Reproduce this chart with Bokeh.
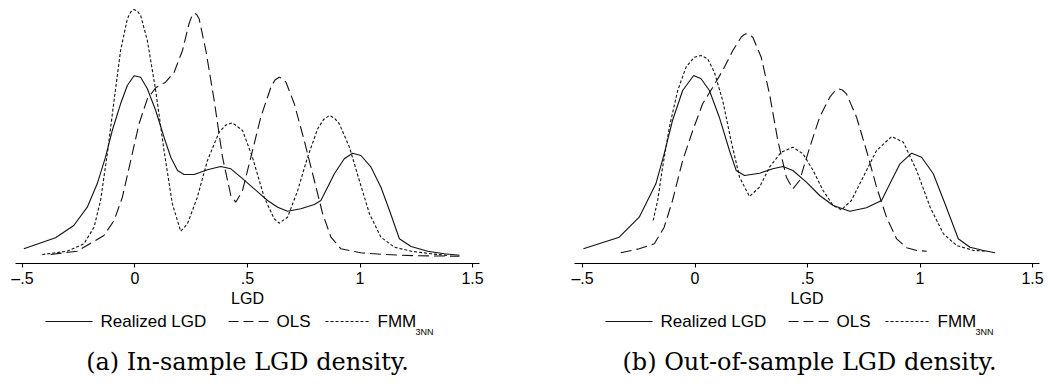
from bokeh.plotting import figure
from bokeh.layouts import row, column
from bokeh.models import FixedTicker, Range1d
from bokeh.core.properties import value
from bokeh.embed import file_html
from bokeh.resources import INLINE

# ---------------- data ----------------
# Panel (a): in-sample
a_real_x = [-0.494, -0.353, -0.272, -0.212, -0.168, -0.131, -0.101, -0.064, -0.034, -0.004,
            0.025, 0.055, 0.092, 0.129, 0.159, 0.189, 0.218, 0.263, 0.322, 0.381,
            0.426, 0.47, 0.53, 0.589, 0.634, 0.678, 0.737, 0.797, 0.826, 0.856,
            0.886, 0.93, 0.967, 1.004, 1.049, 1.093, 1.131, 1.175, 1.227, 1.301,
            1.375, 1.442]
a_real_y = [0.077, 0.187, 0.31, 0.493, 0.727, 0.993, 1.26, 1.527, 1.71, 1.807,
            1.793, 1.677, 1.46, 1.193, 0.993, 0.86, 0.82, 0.82, 0.867, 0.9,
            0.877, 0.793, 0.677, 0.56, 0.493, 0.453, 0.477, 0.52, 0.56, 0.693,
            0.827, 0.977, 1.033, 1.01, 0.893, 0.693, 0.46, 0.177, 0.1, 0.053,
            0.027, 0.013]

a_ols_x = [-0.375, -0.257, -0.138, -0.093, -0.056, -0.019, 0.018, 0.055, 0.092, 0.136,
           0.174, 0.211, 0.24, 0.252, 0.263, 0.274, 0.285, 0.315, 0.352, 0.389, 0.426, 0.448,
           0.478, 0.515, 0.559, 0.604, 0.622, 0.641, 0.656, 0.671, 0.708, 0.752, 0.797, 0.834,
           0.871, 0.915, 1.004, 1.108, 1.257, 1.442]
a_ols_y = [0.02, 0.053, 0.21, 0.36, 0.593, 0.96, 1.327, 1.577, 1.687, 1.743,
           1.843, 2.06, 2.327, 2.40, 2.433, 2.42, 2.377, 2.06, 1.56, 0.993, 0.61, 0.543,
           0.66, 0.993, 1.393, 1.693, 1.765, 1.793, 1.78, 1.743, 1.527, 1.16, 0.76, 0.427,
           0.193, 0.077, 0.037, 0.02, 0.007, 0.003]

a_fmm_x = [-0.412, -0.301, -0.227, -0.182, -0.153, -0.123, -0.093, -0.064, -0.034, -0.019,
           -0.004, 0.010, 0.025, 0.055, 0.092, 0.129, 0.166, 0.203, 0.233, 0.277, 0.322,
           0.374, 0.404, 0.433, 0.478, 0.522, 0.574, 0.619, 0.641, 0.678, 0.723, 0.767,
           0.812, 0.838, 0.864, 0.886, 0.908, 0.953, 0.997, 1.042, 1.093, 1.153, 1.227,
           1.316, 1.39]
a_fmm_y = [0.02, 0.053, 0.127, 0.293, 0.56, 1.027, 1.56, 2.06, 2.377, 2.445,
           2.47, 2.455, 2.41, 2.16, 1.66, 1.06, 0.527, 0.253, 0.327, 0.593, 0.96,
           1.243, 1.315, 1.337, 1.26, 0.993, 0.593, 0.377, 0.333, 0.393, 0.66, 0.993,
           1.277, 1.37, 1.41, 1.385, 1.327, 1.093, 0.76, 0.427, 0.193, 0.093, 0.053,
           0.027, 0.01]

# Panel (b): out-of-sample
b_real_x = [-0.496, -0.337, -0.248, -0.174, -0.137, -0.1, -0.055, -0.006, 0.027, 0.064,
            0.108, 0.153, 0.183, 0.22, 0.287, 0.346, 0.391, 0.435, 0.495, 0.554,
            0.614, 0.688, 0.762, 0.829, 0.866, 0.911, 0.963, 1.007, 1.059, 1.111,
            1.17, 1.222, 1.282, 1.334]
b_real_y = [0.077, 0.193, 0.393, 0.727, 1.027, 1.36, 1.66, 1.81, 1.777, 1.66,
            1.393, 1.06, 0.86, 0.81, 0.833, 0.877, 0.9, 0.86, 0.743, 0.61,
            0.51, 0.453, 0.487, 0.56, 0.727, 0.927, 1.033, 0.993, 0.827, 0.527,
            0.177, 0.093, 0.06, 0.037]

b_ols_x = [-0.33, -0.248, -0.181, -0.137, -0.1, -0.055, -0.01, 0.034, 0.079, 0.123,
           0.168, 0.205, 0.216, 0.227, 0.242, 0.257, 0.294, 0.331, 0.368, 0.406, 0.435,
           0.465, 0.51, 0.554, 0.599, 0.618, 0.636, 0.655, 0.673, 0.718, 0.762, 0.807,
           0.851, 0.896, 0.941, 0.985, 1.03]
b_ols_y = [0.037, 0.077, 0.127, 0.293, 0.56, 0.96, 1.26, 1.527, 1.693, 1.86,
           2.06, 2.193, 2.215, 2.227, 2.215, 2.193, 1.993, 1.627, 1.16, 0.793, 0.677,
           0.76, 1.093, 1.393, 1.593, 1.645, 1.677, 1.665, 1.627, 1.393, 1.06, 0.693,
           0.393, 0.177, 0.087, 0.06, 0.053]

b_fmm_x = [-0.186, -0.166, -0.144, -0.114, -0.077, -0.04, -0.003, 0.027, 0.056, 0.086,
           0.123, 0.16, 0.198, 0.242, 0.287, 0.331, 0.383, 0.435, 0.48, 0.525,
           0.569, 0.614, 0.651, 0.695, 0.747, 0.807, 0.874, 0.926, 0.985, 1.045,
           1.104, 1.163, 1.238, 1.297]
b_fmm_y = [0.36, 0.56, 0.893, 1.293, 1.66, 1.893, 1.993, 2.01, 1.977, 1.843,
           1.56, 1.16, 0.793, 0.6, 0.693, 0.893, 1.043, 1.093, 1.027, 0.86,
           0.66, 0.51, 0.467, 0.56, 0.793, 1.06, 1.2, 1.143, 0.86, 0.493,
           0.227, 0.11, 0.06, 0.053]

tick_values = [-0.5, 0, 0.5, 1, 1.5]
tick_labels = ["\u2013.5", "0", ".5", "1", "1.5"]
series_names = ["Realized LGD", "OLS", "FMM"]
subscript = "3NN"
captions = ["(a) In-sample LGD density.", "(b) Out-of-sample LGD density."]

# ---------------- styling / layout ----------------
SANS = "Liberation Sans"
SERIF = "DejaVu Serif"
INK = "#111111"
DASHES = ["solid", "11 5", "3 2"]
KEY_DASHES = ["solid", "10 5", "3 2"]
TOP_H = 263          # plot frame height
AXIS_H = 50          # room for axis below frame
KEY_H = 387 - TOP_H - AXIS_H

# legend/caption layout, page pixels for panel (a); panel (b) is shifted by 560
KEY_SAMPLES = [(45, 92), (228, 268), (325, 368)]
KEY_TEXT_X = [100, 276, 377]
KEY_SUB_X = 415
KEY_Y = 8
KEY_SUB_Y = 18
CAP_Y = 48


def make_plot(xs, ys, x_range, border_left, frame_w, border_right):
    p = figure(frame_width=frame_w, frame_height=TOP_H,
               min_border_left=border_left, min_border_right=border_right,
               min_border_top=0, min_border_bottom=AXIS_H,
               x_range=x_range, y_range=(-0.07, 2.56),
               y_axis_location=None, toolbar_location=None,
               output_backend="svg")
    p.outline_line_color = None
    p.xgrid.visible = False
    p.ygrid.visible = False

    for x, y, d in zip(xs, ys, DASHES):
        p.line(x, y, line_color=INK, line_width=1.1, line_dash=d)

    ax = p.xaxis[0]
    ax.ticker = FixedTicker(ticks=tick_values)
    ax.major_label_overrides = {v: l for v, l in zip(tick_values, tick_labels)}
    ax.minor_tick_line_color = None
    ax.major_tick_in = 0
    ax.major_tick_out = 4
    ax.major_label_standoff = 2
    ax.major_label_text_font = SANS
    ax.major_label_text_font_size = "16px"
    ax.major_label_text_color = "black"
    ax.axis_label = "LGD"
    ax.axis_label_text_font = SANS
    ax.axis_label_text_font_size = "16px"
    ax.axis_label_text_font_style = "normal"
    ax.axis_label_text_color = "black"
    ax.axis_label_standoff = 0
    ax.axis_line_color = "black"
    ax.major_tick_line_color = "black"
    return p


def make_key(border_left, frame_w, border_right, page_left, shift, caption, cap_x):
    # frame mapped 1:1 to page pixels (x) and to key-strip pixels from top (y)
    x0 = page_left + border_left
    k = figure(frame_width=frame_w, frame_height=KEY_H,
               min_border_left=border_left, min_border_right=border_right,
               min_border_top=0, min_border_bottom=0,
               x_range=Range1d(x0, x0 + frame_w), y_range=Range1d(KEY_H, 0),
               x_axis_location=None, y_axis_location=None,
               toolbar_location=None, output_backend="svg")
    k.outline_line_color = None
    k.xgrid.visible = False
    k.ygrid.visible = False
    for (s0, s1), d in zip(KEY_SAMPLES, KEY_DASHES):
        k.line([s0 + shift, s1 + shift], [KEY_Y, KEY_Y], line_color=INK,
               line_width=1.1, line_dash=d)
    k.text(x=[tx + shift for tx in KEY_TEXT_X], y=[KEY_Y] * 3, text=series_names,
           text_font=value(SANS), text_font_size="17px", text_color="black",
           text_baseline="middle", text_align="left")
    k.text(x=[KEY_SUB_X + shift], y=[KEY_SUB_Y], text=[subscript],
           text_font=value(SANS), text_font_size="9px", text_color="black",
           text_baseline="alphabetic", text_align="left")
    k.text(x=[cap_x], y=[CAP_Y], text=[caption],
           text_font=value(SERIF), text_font_size="24px", text_color="black",
           text_baseline="middle", text_align="center")
    return k


pa = make_plot([a_real_x, a_ols_x, a_fmm_x], [a_real_y, a_ols_y, a_fmm_y],
               (-0.531, 1.531), 15, 464, 50)
pb = make_plot([b_real_x, b_ols_x, b_fmm_x], [b_real_y, b_ols_y, b_fmm_y],
               (-0.5356, 1.531), 45, 465, 20)
ka = make_key(15, 464, 50, 0, 0, captions[0], 247)
kb = make_key(45, 465, 20, 529, 560, captions[1], 809)

layout = row(column(pa, ka, spacing=0), column(pb, kb, spacing=0), spacing=0)
open("out.html", "w").write(file_html(layout, INLINE))
